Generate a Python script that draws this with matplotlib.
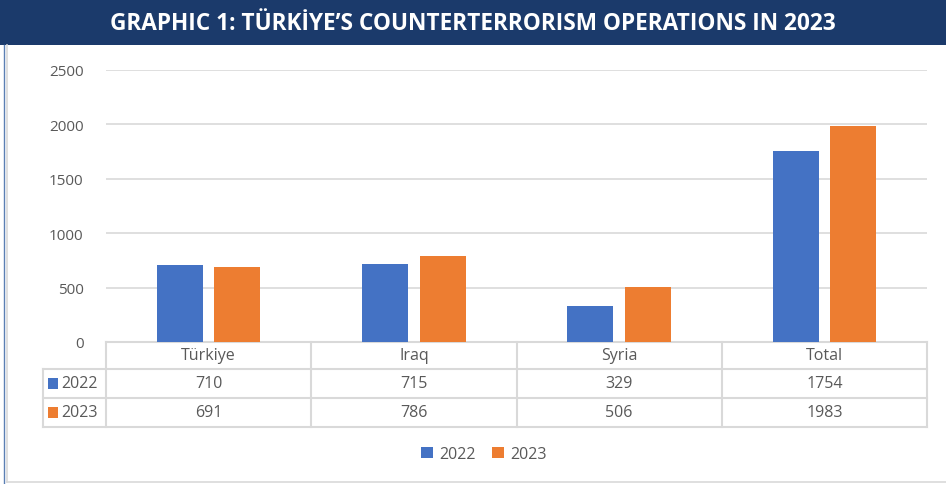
import matplotlib.pyplot as plt
from matplotlib.patches import Rectangle
from matplotlib.lines import Line2D
import numpy as np

categories = ['Türkiye', 'Iraq', 'Syria', 'Total']
years = ['2022', '2023']
ops_2022 = [710, 715, 329, 1754]
ops_2023 = [691, 786, 506, 1983]
colors = ['#4472C4', '#ED7D31']
yticks = [0, 500, 1000, 1500, 2000, 2500]

W, H = 946, 485
fig = plt.figure(figsize=(W / 100, H / 100), dpi=100)
plt.rcParams['font.family'] = ['Open Sans', 'DejaVu Sans']
grey = '#595959'
line_c = '#d9d9d9'

def fx(px):
    return px / W

def fy(py):
    return 1 - py / H

# title banner
fig.patches.append(Rectangle((0, fy(46)), 1, 46 / H, transform=fig.transFigure,
                             facecolor='#1b3a6b', edgecolor='none'))
fig.text(0.5, fy(24), 'GRAPHIC 1: TÜRKİYE’S COUNTERTERRORISM OPERATIONS IN 2023',
         ha='center', va='center', color='white', fontsize=16.3, fontweight='bold')
# outer frame
fig.lines.append(Line2D([fx(7), fx(7)], [fy(46), fy(483)], transform=fig.transFigure, color=line_c, lw=1.2))
fig.lines.append(Line2D([fx(4), fx(4)], [fy(46), fy(485)], transform=fig.transFigure, color='#5b7fb3', lw=1))
fig.lines.append(Line2D([fx(7), fx(946)], [fy(483), fy(483)], transform=fig.transFigure, color=line_c, lw=1.2))

ax = fig.add_axes([fx(106), fy(343), fx(927) - fx(106), (343 - 71) / H])
x = np.arange(len(categories))
w = 0.224
off = 0.14
ax.bar(x - off, ops_2022, w, color=colors[0], zorder=3)
ax.bar(x + off, ops_2023, w, color=colors[1], zorder=3)
ax.set_xlim(-0.5, len(categories) - 0.5)
ax.set_ylim(0, 2500)
ax.set_yticks(yticks)
ax.set_yticklabels([str(v) for v in yticks], color=grey, fontsize=11)
ax.tick_params(axis='y', length=0, pad=16)
ax.set_xticks([])
ax.grid(axis='y', color=line_c, lw=1.2, zorder=0)
for s in ax.spines.values():
    s.set_visible(False)

# data table under the axis
row_h = [27 / (343 - 71), 29 / (343 - 71), 29 / (343 - 71)]
y0 = 0
y1 = -row_h[0]
y2 = y1 - row_h[1]
y3 = y2 - row_h[2]
left_x = -0.5 - (106 - 43) / 205
kw = dict(color=line_c, lw=1.5, clip_on=False, transform=ax.get_xaxis_transform())
ax.plot([-0.5, 3.5], [y0, y0], **kw)
ax.plot([left_x, 3.5], [y1, y1], **kw)
ax.plot([left_x, 3.5], [y2, y2], **kw)
ax.plot([left_x, 3.5], [y3, y3], **kw)
ax.plot([left_x, left_x], [y1, y3], **kw)
for b in np.arange(len(categories) + 1) - 0.5:
    ax.plot([b, b], [y0, y3], **kw)

tr = ax.get_xaxis_transform()
fs = 11.5
for i, c in enumerate(categories):
    ax.text(i, (y0 + y1) / 2, c, ha='center', va='center', color=grey, fontsize=fs, transform=tr)
    ax.text(i, (y1 + y2) / 2, str(ops_2022[i]), ha='center', va='center', color=grey, fontsize=fs, transform=tr)
    ax.text(i, (y2 + y3) / 2, str(ops_2023[i]), ha='center', va='center', color=grey, fontsize=fs, transform=tr)
for yr, col, (ya, yb) in zip(years, colors, [(y1, y2), (y2, y3)]):
    ym = (ya + yb) / 2
    ax.add_patch(Rectangle((left_x + 0.025, ym - 0.02), 0.048, 0.04, transform=tr,
                           facecolor=col, edgecolor='none', clip_on=False))
    ax.text(left_x + 0.09, ym, yr, ha='left', va='center', color=grey, fontsize=fs, transform=tr)

# legend
handles = [Rectangle((0, 0), 1, 1, facecolor=c) for c in colors]
fig.legend(handles, years, loc='center', bbox_to_anchor=(fx(484), fy(455)), ncol=2,
           frameon=False, fontsize=11.5, labelcolor=grey, handlelength=0.75, handleheight=0.75,
           handletextpad=0.4, columnspacing=1.0)

fig.savefig('out.png', dpi=100)
